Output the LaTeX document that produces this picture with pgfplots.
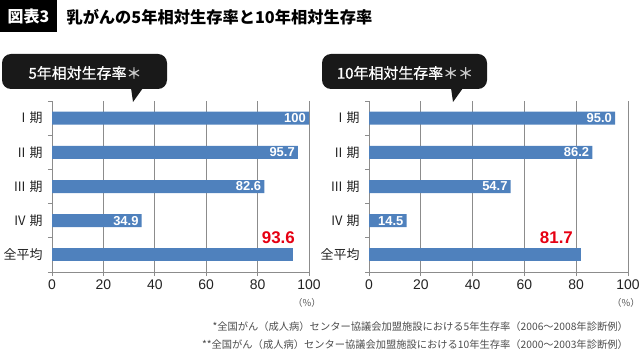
\documentclass[border=0pt]{standalone}
\usepackage{fontspec}
\setmainfont{Liberation Sans}
\newfontfamily\jp{Noto Sans CJK JP}
\newfontfamily\jpm{Noto Sans CJK JP}[FakeBold=0.8]
\usepackage{pgfplots}
\pgfplotsset{compat=1.18}
\definecolor{barblue}{HTML}{4F81BD}
\definecolor{redlab}{HTML}{E60012}
\definecolor{axgray}{HTML}{8C8C8C}
\definecolor{txt}{HTML}{222222}

\pgfplotsset{
  mystyle/.style={
    anchor=south west, scale only axis, height=171bp,
    xmin=0, xmax=100, ymin=-0.5, ymax=4.5,
    axis x line*=bottom, axis y line*=left,
    axis line style={axgray, line width=0.8bp},
    xtick={0,20,...,100},
    xmajorgrids, grid style={axgray, line width=0.8bp},
    tick align=outside,
    major tick length=4bp, minor tick length=4bp,
    tick style={axgray, line width=0.8bp},
    ytick={0,1,2,3,4},
    yticklabels={全平均,IV\hspace{4bp}期,III\hspace{4bp}期,II\hspace{4bp}期,I\hspace{4bp}期},
    major y tick style={draw=none},
    minor ytick={-0.5,0.5,1.5,2.5,3.5,4.5},
    /pgf/number format/assume math mode=true,
    xticklabel style={font=\fontsize{14}{14}\selectfont, text=txt},
    yticklabel style={font=\jp\fontsize{13}{13}\selectfont, text=txt, xshift=-2bp},
    clip=false,
  },
  barsty/.style={xbar, bar shift=0pt, bar width=13bp, fill=barblue, draw=none,
    point meta=explicit symbolic, nodes near coords,
    nodes near coords style={anchor=east, text=white, inner sep=2bp, xshift=-1bp,
      font=\bfseries\fontsize{13}{13}\selectfont}},
  avgsty/.style={xbar, bar shift=0pt, bar width=13bp, fill=barblue, draw=none,
    point meta=explicit symbolic, nodes near coords,
    nodes near coords style={anchor=south east, text=redlab, inner sep=2bp, yshift=9bp,
      font=\bfseries\fontsize{17}{17}\selectfont}},
}

\begin{document}
\begin{tikzpicture}
\path[use as bounding box] (0bp,0bp) rectangle (640bp,355bp);
% header
\fill[black] (0bp,355bp) rectangle (57bp,323bp);
\node[text=white, font=\jp\bfseries\fontsize{16}{16}\selectfont] at (28.5bp,339bp) {図表3};
\node[anchor=west, text=black, font=\jp\bfseries\fontsize{16.3}{16.3}\selectfont] at (63bp,338bp) {乳がんの5年相対生存率と10年相対生存率};

% callouts
\fill[black!90, rounded corners=9bp] (2bp,301bp) rectangle (167bp,266bp);
\fill[black!90] (131bp,267bp) -- (133bp,253bp) -- (143bp,267bp) -- cycle;
\node[text=white, font=\jpm\fontsize{15}{15}\selectfont] at (85bp,282bp) {5年相対生存率{\color{gray!40}＊}};

\fill[black!90, rounded corners=9bp] (322bp,301bp) rectangle (487bp,266bp);
\fill[black!90] (451bp,267bp) -- (453bp,253bp) -- (463bp,267bp) -- cycle;
\node[text=white, font=\jpm\fontsize{15}{15}\selectfont] at (405bp,282bp) {10年相対生存率{\color{gray!40}＊＊}};

% left axis
\begin{axis}[mystyle, at={(52bp,83bp)}, width=257bp]
\addplot[barsty] coordinates {(100,4) [100] (95.7,3) [95.7] (82.6,2) [82.6] (34.9,1) [34.9]};
\addplot[avgsty, nodes near coords style={xshift=4.5bp}] coordinates {(93.6,0) [93.6]};
\node[anchor=north east, font=\jp\fontsize{9.5}{9.5}\selectfont, text=black!65, inner sep=0pt]
  at (rel axis cs:1,0) [xshift=12bp, yshift=-26bp] {（\%）};
\end{axis}

% right axis
\begin{axis}[mystyle, at={(369bp,83bp)}, width=259bp]
\addplot[barsty] coordinates {(95.0,4) [95.0] (86.2,3) [86.2] (54.7,2) [54.7] (14.5,1) [14.5]};
\addplot[avgsty, nodes near coords style={xshift=-5.5bp}] coordinates {(81.7,0) [81.7]};
\node[anchor=north east, font=\jp\fontsize{9.5}{9.5}\selectfont, text=black!65, inner sep=0pt]
  at (rel axis cs:1,0) [xshift=12bp, yshift=-26bp] {（\%）};
\end{axis}

% footnotes
\node[anchor=east, font=\jp\fontsize{10.3}{10.3}\selectfont, text=black!70, inner sep=0pt] at (628bp,28bp)
  {*全国がん（成人病）センター協議会加盟施設における5年生存率（2006～2008年診断例）};
\node[anchor=east, font=\jp\fontsize{10.3}{10.3}\selectfont, text=black!70, inner sep=0pt] at (628bp,10bp)
  {**全国がん（成人病）センター協議会加盟施設における10年生存率（2000～2003年診断例）};
\end{tikzpicture}
\end{document}
